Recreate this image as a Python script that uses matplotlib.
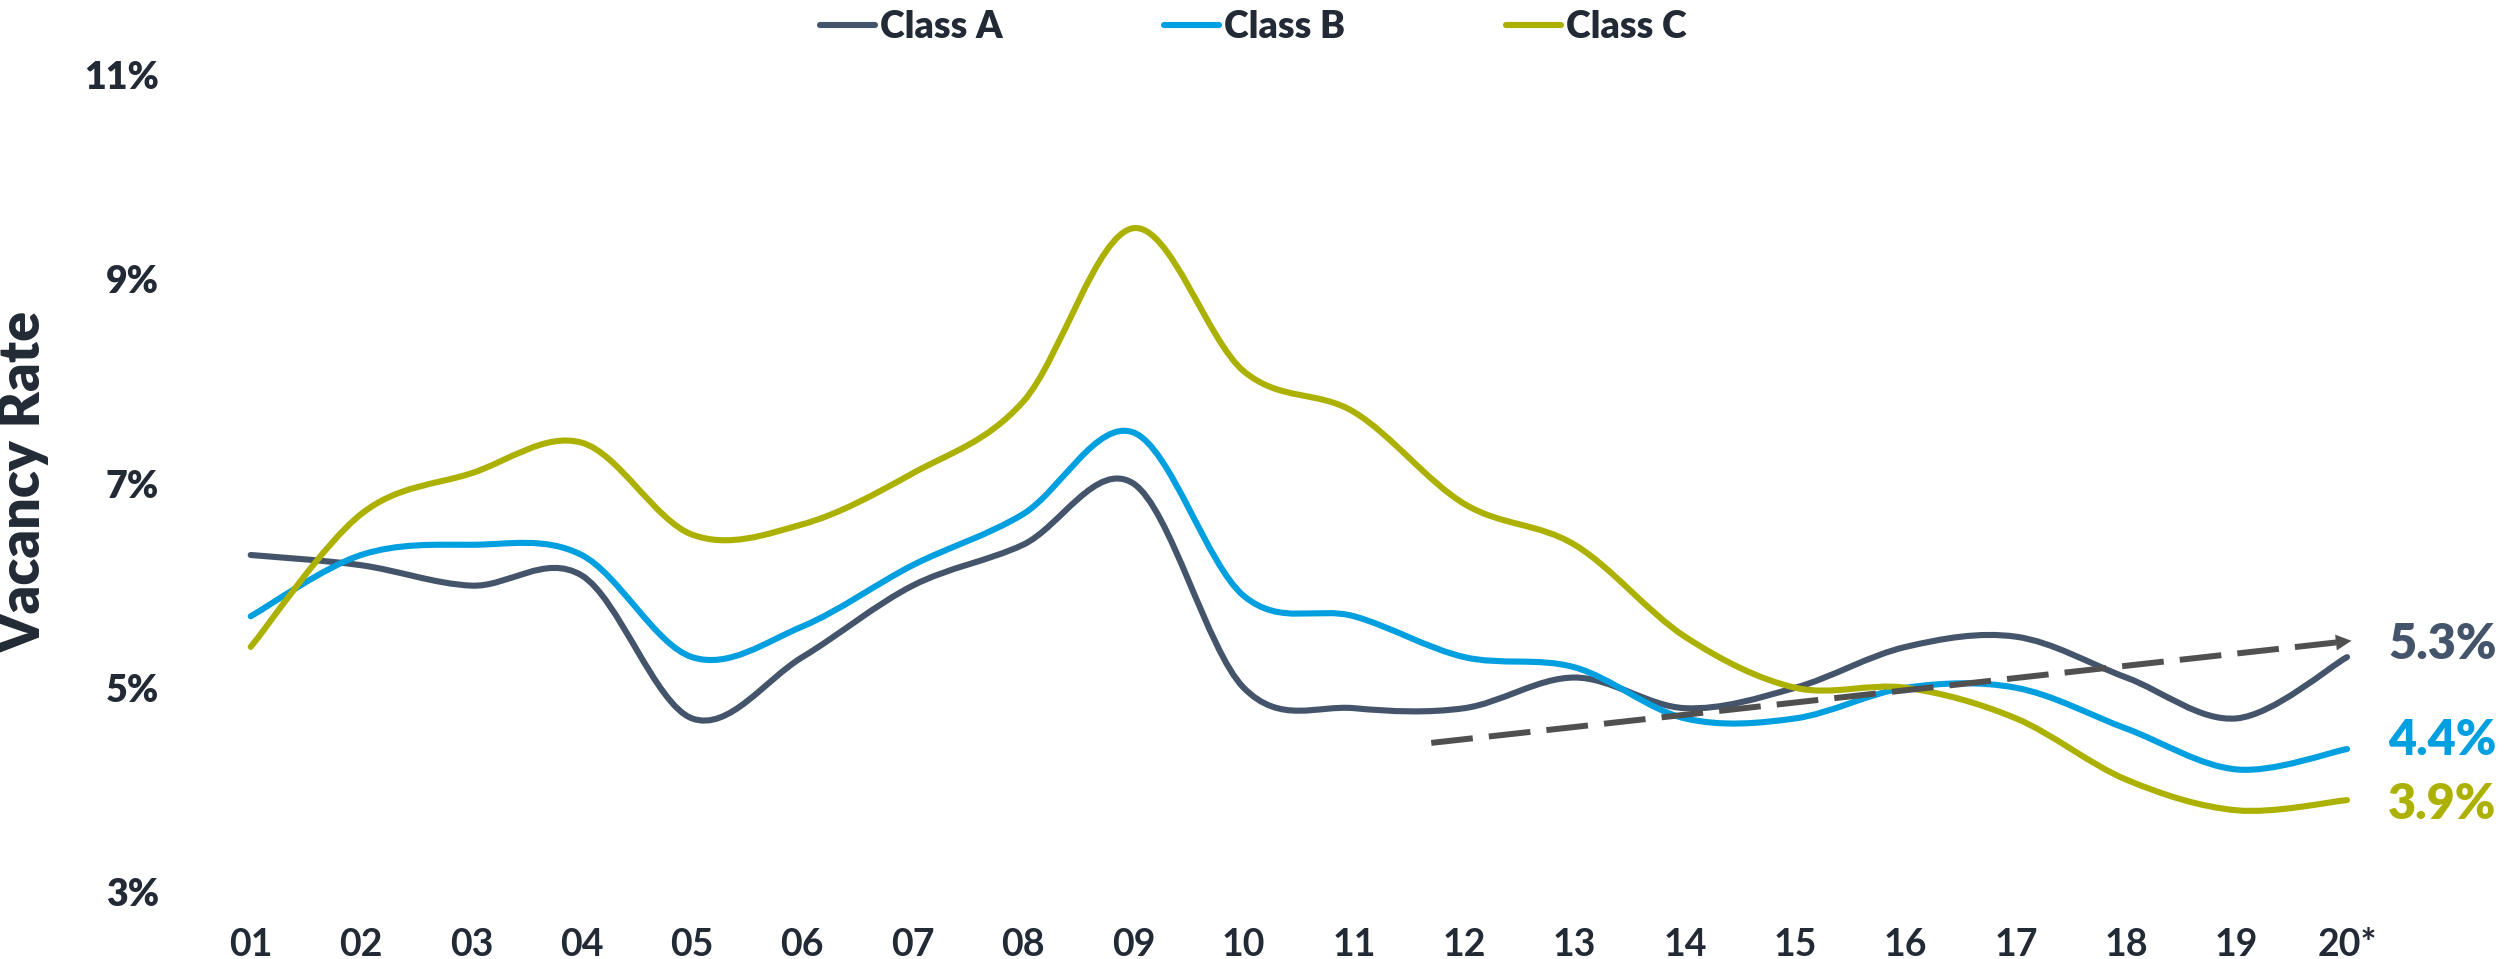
import matplotlib
matplotlib.use("Agg")
import matplotlib.pyplot as plt
import numpy as np
from matplotlib.path import Path
from matplotlib.patches import PathPatch
from matplotlib.lines import Line2D

# vacancy rate by year, percent
years = ["01", "02", "03", "04", "05", "06", "07", "08", "09", "10",
         "11", "12", "13", "14", "15", "16", "17", "18", "19", "20*"]
class_a = [6.3, 6.2, 6.0, 6.1, 4.7, 5.3, 6.0, 6.4, 7.0, 5.0,
           4.8, 4.8, 5.1, 4.8, 5.0, 5.4, 5.5, 5.1, 4.7, 5.3]
class_b = [5.7, 6.3, 6.4, 6.3, 5.3, 5.6, 6.2, 6.7, 7.5, 5.9,
           5.7, 5.3, 5.2, 4.7, 4.7, 5.0, 5.0, 4.6, 4.2, 4.4]
class_c = [5.4, 6.7, 7.1, 7.4, 6.5, 6.6, 7.1, 7.8, 9.5, 8.1,
           7.7, 6.8, 6.4, 5.5, 5.0, 5.0, 4.7, 4.1, 3.8, 3.9]
series_names = ["Class A", "Class B", "Class C"]
y_ticks = [3, 5, 7, 9, 11]
# trend arrow, (year index, rate)
trend_start = [10.7, 4.46]
trend_end = [19.04, 5.46]

colors = ["#44546A", "#009FDF", "#ACB100"]
label_dy = [9, 6, -3]
text_color = "#222A35"
heavy = "heavy"

plt.rcParams["font.family"] = ["Lato", "DejaVu Sans"]
plt.rcParams["font.weight"] = "bold"


def smooth_path(x, y):
    # Catmull-Rom style cubic bezier through every point
    pts = np.column_stack([x, y]).astype(float)
    ext = np.vstack([pts[0], pts, pts[-1]])
    verts = [pts[0]]
    codes = [Path.MOVETO]
    for i in range(len(pts) - 1):
        p0, p1, p2, p3 = ext[i], ext[i + 1], ext[i + 2], ext[i + 3]
        verts += [p1 + (p2 - p0) / 6, p2 - (p3 - p1) / 6, p2]
        codes += [Path.CURVE4] * 3
    return Path(verts, codes)


fig = plt.figure(figsize=(25.04, 9.59), dpi=100)
ax = fig.add_axes([250.7 / 2504, 67 / 959, (2347 - 250.7) / 2504, 817 / 959])

x = np.arange(len(years))
handles = []
for i, (vals, name) in enumerate(zip([class_a, class_b, class_c], series_names)):
    patch = PathPatch(smooth_path(x, vals), fill=False, edgecolor=colors[i],
                      linewidth=4.4, capstyle="round", joinstyle="round",
                      clip_on=False, zorder=3)
    ax.add_patch(patch)
    ax.annotate(f"{vals[-1]}%", xy=(x[-1], vals[-1]), xytext=(29.5, label_dy[i]),
                textcoords="offset points", ha="left", va="center",
                fontsize=35, fontweight=heavy, color=colors[i],
                annotation_clip=False)
    handles.append(Line2D([0], [0], color=colors[i], linewidth=4.4,
                          solid_capstyle="round", label=name))

# dashed trend line with a solid head
ax.plot([trend_start[0], trend_end[0] - 0.12], [trend_start[1], trend_end[1] - 0.0144],
        color="#505050", linewidth=4.3, dashes=(7, 2.7), dash_capstyle="butt",
        clip_on=False, zorder=4)
ax.annotate("", xy=tuple(trend_end), xytext=(trend_end[0] - 0.13, trend_end[1] - 0.0156),
            arrowprops=dict(arrowstyle="-|>,head_length=0.55,head_width=0.28",
                            color="#505050", linewidth=0.1, mutation_scale=20,
                            shrinkA=0, shrinkB=0),
            annotation_clip=False, zorder=4)

ax.set_xlim(0, len(years) - 1)
ax.set_ylim(3, 11)
ax.set_xticks(x, years)
ax.set_yticks(y_ticks, [f"{t}%" for t in y_ticks])
ax.tick_params(axis="both", length=0, colors=text_color)
ax.tick_params(axis="y", pad=66, labelsize=27)
ax.tick_params(axis="x", pad=26, labelsize=27)
for lbl in ax.get_xticklabels():
    lbl.set_fontfamily(["Liberation Sans Narrow", "Lato", "DejaVu Sans"])
    lbl.set_fontweight("bold")
for lbl in ax.get_yticklabels():
    lbl.set_fontweight(heavy)
for s in ax.spines.values():
    s.set_visible(False)

fig.text(24 / 2504, 1 - 482 / 959, "Vacancy Rate", rotation=90, ha="center",
         va="center", fontsize=40, fontweight=heavy, color=text_color)

fig.legend(handles=handles, loc="center", bbox_to_anchor=(0.5006, 1 - 27 / 959),
           ncol=3, frameon=False, handlelength=1.47,
           handletextpad=0.13, columnspacing=4.3, labelcolor=text_color,
           prop={"weight": heavy, "size": 27})

fig.savefig("out.png", dpi=100)
